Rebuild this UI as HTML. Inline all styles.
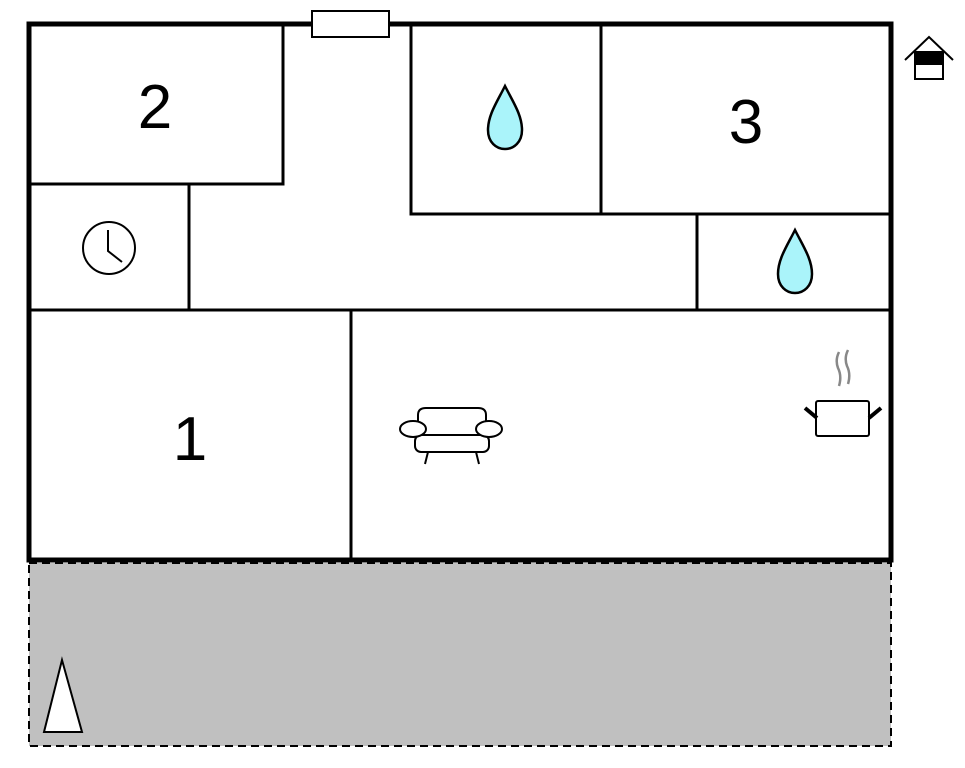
<!DOCTYPE html>
<html><head><style>body{margin:0;background:#fff}svg{display:block}</style></head><body>
<svg width="965" height="768" viewBox="0 0 965 768" xmlns="http://www.w3.org/2000/svg">
<rect x="29" y="563" width="862" height="183" fill="#c0c0c0" stroke="#000" stroke-width="2" stroke-dasharray="8,5"/>
<polygon points="44,732 82,732 62,660" fill="#fff" stroke="#000" stroke-width="2"/>
<g stroke="#000" stroke-width="3" fill="none">
<polyline points="29,184 283,184 283,24"/>
<line x1="189" y1="184" x2="189" y2="310"/>
<line x1="29" y1="310" x2="891" y2="310"/>
<line x1="351" y1="310" x2="351" y2="560"/>
<polyline points="411,24 411,214 891,214"/>
<line x1="601" y1="24" x2="601" y2="214"/>
<line x1="697" y1="214" x2="697" y2="310"/>
</g>
<rect x="29" y="24" width="862" height="536" fill="none" stroke="#000" stroke-width="5"/>
<rect x="312" y="11" width="77" height="26" fill="#fff" stroke="#000" stroke-width="2"/>
<g font-family="Liberation Sans, sans-serif" font-size="62" text-anchor="middle" fill="#000">
<text x="155" y="128">2</text>
<text x="746" y="143">3</text>
<text x="190" y="460">1</text>
</g>
<g fill="#aaf4fa" stroke="#000" stroke-width="2.5">
<path d="M505,86 C497,102 488,115 488,130 C488,142 496,149 505,149 C514,149 522,142 522,130 C522,115 513,102 505,86 Z"/>
<path d="M795,230 C787,246 778,259 778,274 C778,286 786,293 795,293 C804,293 812,286 812,274 C812,259 803,246 795,230 Z"/>
</g>
<g stroke="#000" stroke-width="2" fill="none">
<circle cx="109" cy="248" r="26"/>
<polyline points="108,230 108,251 122,262"/>
</g>
<g stroke="#000" stroke-width="2" fill="#fff">
<path d="M418,430 L418,415 Q418,408 426,408 L478,408 Q486,408 486,415 L486,430"/>
<rect x="415" y="435" width="74" height="17" rx="6"/>
<ellipse cx="413" cy="429" rx="13" ry="8"/>
<ellipse cx="489" cy="429" rx="13" ry="8"/>
<line x1="428" y1="452" x2="425" y2="464"/>
<line x1="476" y1="452" x2="479" y2="464"/>
</g>
<g>
<path d="M839,352 q-4,8 -1,16 q4,8 1,18" stroke="#888" stroke-width="2.5" fill="none"/>
<path d="M848,350 q-4,8 -1,16 q4,8 1,18" stroke="#888" stroke-width="2.5" fill="none"/>
<rect x="816" y="401" width="53" height="35" rx="2" fill="#fff" stroke="#000" stroke-width="2"/>
<line x1="805" y1="408" x2="817" y2="418" stroke="#000" stroke-width="4"/>
<line x1="881" y1="408" x2="869" y2="418" stroke="#000" stroke-width="4"/>
</g>
<g stroke="#000" stroke-width="2">
<polyline points="905,60 929,37 953,60" fill="none"/>
<rect x="915" y="52" width="28" height="27" fill="#fff"/>
<rect x="915" y="52" width="28" height="12" fill="#000"/>
</g>
</svg>
</body></html>
